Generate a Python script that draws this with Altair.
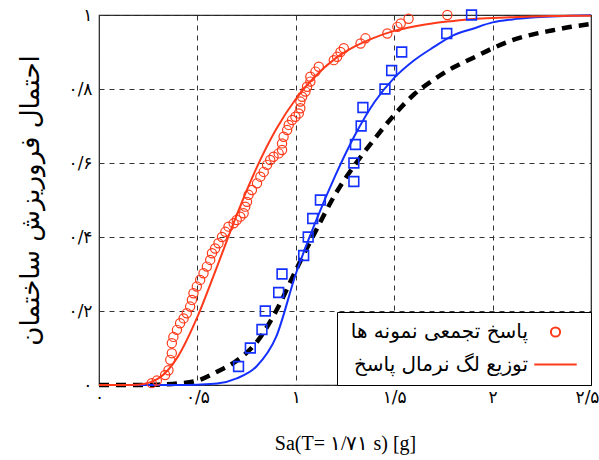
import altair as alt
import pandas as pd

RED = "#ff3a1a"
BLUE = "#1430ff"
PERSIAN_FONT = "DejaVu Sans"

# ---- tick labels (Persian digits) ----
x_ticks = [0, 0.5, 1, 1.5, 2, 2.5]
x_tick_labels = ["۰", "۰/۵", "۱", "۱/۵", "۲", "۲/۵"]
y_ticks = [0, 0.2, 0.4, 0.6, 0.8, 1]
y_tick_labels = ["۰", "۰/۲", "۰/۴", "۰/۶", "۰/۸", "۱"]

x_title = "Sa(T= ۱/۷۱ s) [g]"
y_title = "احتمال فروریزش ساختمان"
legend_labels = ["پاسخ تجمعی نمونه ها", "توزیع لگ نرمال پاسخ"]

# ---- fitted curves ----
fit_x = [0.0, 0.1, 0.2, 0.3, 0.4, 0.5, 0.6, 0.7, 0.8, 0.9, 1.0, 1.1, 1.2,
         1.3, 1.4, 1.5, 1.6, 1.7, 1.8, 1.9, 2.0, 2.1, 2.2, 2.3, 2.4, 2.5]
red_fit = [0.0, 0.0, 0.001, 0.017, 0.076, 0.184, 0.32, 0.46, 0.586, 0.691,
           0.773, 0.835, 0.882, 0.915, 0.939, 0.957, 0.969, 0.978, 0.984,
           0.989, 0.992, 0.994, 0.996, 0.997, 0.998, 0.998]
blue_fit = [0.0, 0.0, 0.0, 0.0, 0.0, 0.001, 0.004, 0.018, 0.05, 0.13,
            0.30, 0.44, 0.565, 0.675, 0.765, 0.83, 0.877, 0.913, 0.945,
            0.963, 0.98, 0.988, 0.993, 0.996, 0.998, 0.999]
black_fit = [0.0, 0.0, 0.0, 0.001, 0.004, 0.012, 0.036, 0.066, 0.115, 0.2,
             0.31, 0.415, 0.515, 0.595, 0.665, 0.73, 0.785, 0.825, 0.858,
             0.884, 0.91, 0.932, 0.947, 0.958, 0.968, 0.976]

# ---- empirical (cumulative) responses ----
circ_x = [0.268, 0.294, 0.336, 0.353, 0.362, 0.370, 0.370, 0.378, 0.396, 0.412,
          0.430, 0.446, 0.463, 0.472, 0.480, 0.497, 0.514, 0.531, 0.548, 0.565,
          0.574, 0.590, 0.607, 0.625, 0.642, 0.658, 0.684, 0.700, 0.718, 0.735,
          0.743, 0.752, 0.760, 0.777, 0.803, 0.820, 0.837, 0.854, 0.870, 0.887,
          0.913, 0.930, 0.930, 0.938, 0.956, 0.964, 0.981, 0.998, 1.015, 1.023,
          1.023, 1.032, 1.049, 1.057, 1.074, 1.074, 1.100, 1.117, 1.193, 1.210,
          1.227, 1.244, 1.329, 1.354, 1.465, 1.516, 1.533, 1.573, 1.770]
circ_p = [0.005, 0.012, 0.027, 0.040, 0.068, 0.086, 0.113, 0.130, 0.149, 0.167,
          0.180, 0.194, 0.212, 0.230, 0.248, 0.266, 0.284, 0.302, 0.320, 0.338,
          0.356, 0.369, 0.383, 0.400, 0.414, 0.428, 0.437, 0.446, 0.455, 0.464,
          0.482, 0.495, 0.514, 0.527, 0.545, 0.563, 0.576, 0.595, 0.608, 0.617,
          0.626, 0.635, 0.653, 0.671, 0.689, 0.703, 0.716, 0.725, 0.734, 0.748,
          0.766, 0.779, 0.793, 0.806, 0.820, 0.833, 0.847, 0.860, 0.878, 0.887,
          0.900, 0.910, 0.923, 0.937, 0.950, 0.968, 0.977, 0.990, 1.000]

sq_x = [0.709, 0.769, 0.828, 0.845, 0.913, 0.930, 1.040, 1.063, 1.086, 1.125,
        1.295, 1.295, 1.303, 1.332, 1.341, 1.453, 1.487, 1.538, 1.767, 1.893]
sq_p = [0.05, 0.10, 0.15, 0.20, 0.25, 0.30, 0.35, 0.40, 0.45, 0.50,
        0.55, 0.60, 0.65, 0.70, 0.75, 0.80, 0.85, 0.90, 0.95, 1.00]


def label_expr(ticks, labels):
    expr = "''"
    for t, l in reversed(list(zip(ticks, labels))):
        expr = f"(abs(datum.value - {t}) < 1e-6) ? '{l}' : ({expr})"
    return expr


df_red = pd.DataFrame({"x": fit_x, "p": red_fit})
df_blue = pd.DataFrame({"x": fit_x, "p": blue_fit})
df_black = pd.DataFrame({"x": fit_x, "p": black_fit})
df_circ = pd.DataFrame({"x": circ_x, "p": circ_p, "series": legend_labels[0]})
df_sq = pd.DataFrame({"x": sq_x, "p": sq_p})

last_x = x_ticks[-1]
X = alt.X(
    "x:Q",
    scale=alt.Scale(domain=[0, 2.5], nice=False, zero=False),
    axis=alt.Axis(
        values=x_ticks, labelExpr=label_expr(x_ticks, x_tick_labels),
        title=x_title, grid=True, ticks=False, domain=False,
        labelFont=PERSIAN_FONT, labelFontSize=17, labelPadding=4,
        labelColor="black", labelFlush=False,
        labelAlign={"condition": {"test": f"datum.value >= {last_x}", "value": "right"}, "value": "center"},
        labelOffset={"condition": {"test": f"datum.value >= {last_x}", "value": 8}, "value": 0},
        titleFont="Liberation Serif", titleFontSize=20, titleFontWeight="normal",
        titleColor="black", titlePadding=28,
        gridColor="#333333", gridDash=[5, 5], gridWidth=1, gridOpacity=1,
    ),
)
Y = alt.Y(
    "p:Q",
    scale=alt.Scale(domain=[0, 1], nice=False, zero=False),
    axis=alt.Axis(
        values=y_ticks, labelExpr=label_expr(y_ticks, y_tick_labels),
        title=y_title, grid=True, ticks=False, domain=False,
        labelFont=PERSIAN_FONT, labelFontSize=17, labelPadding=7,
        labelColor="black", labelFlush=False,
        titleFont=PERSIAN_FONT, titleFontSize=26, titleFontWeight="normal",
        titleColor="black", titlePadding=25,
        gridColor="#333333", gridDash=[5, 5], gridWidth=1, gridOpacity=1,
    ),
)

black_line = alt.Chart(df_black).mark_line(
    color="black", strokeWidth=4.5, strokeDash=[10, 7], interpolate="monotone"
).encode(x=X, y=Y)
blue_line = alt.Chart(df_blue).mark_line(
    color=BLUE, strokeWidth=2, interpolate="monotone"
).encode(x=X, y=Y)
red_line = alt.Chart(df_red).mark_line(
    color=RED, strokeWidth=2, interpolate="monotone"
).encode(x=X, y=Y)

squares = alt.Chart(df_sq).mark_point(
    shape="square", filled=False, color=BLUE, size=95, strokeWidth=1.6, opacity=1
).encode(x=X, y=Y)

LEG = alt.Legend(
    title=None, orient="bottom-right", offset=0, padding=10,
    strokeColor="black", fillColor="white",
    labelFont=PERSIAN_FONT, labelFontSize=20, labelColor="black",
    labelAlign="right", labelOffset={"expr": "-50"}, symbolOffset=186, labelLimit=0,
    rowPadding=0, symbolStrokeColor=RED, symbolStrokeWidth=2,
    symbolFillColor="transparent", symbolOpacity=1,
)

circles = alt.Chart(df_circ).mark_point(
    filled=False, color=RED, strokeWidth=1.2, opacity=1
).encode(
    x=X, y=Y,
    shape=alt.Shape("series:N", scale=alt.Scale(domain=legend_labels, range=["circle", "stroke"]), legend=LEG),
    size=alt.Size("series:N", scale=alt.Scale(type="ordinal", domain=legend_labels, range=[85, 1800]), legend=LEG),
)

chart = alt.layer(black_line, blue_line, red_line, squares, circles).properties(
    width=492, height=370,
    autosize=alt.AutoSizeParams(type="none"),
    padding={"left": 99, "top": 15, "right": 8, "bottom": 75},
    background="white",
).configure_view(stroke="#222222", strokeWidth=1.2)

chart.save("out.html", embed_options={"renderer": "svg", "actions": False})
